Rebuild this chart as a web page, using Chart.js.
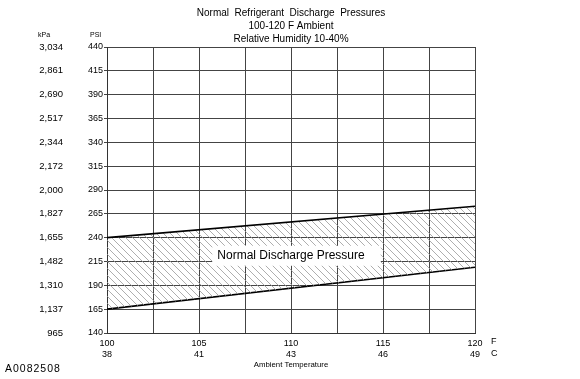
<!DOCTYPE html>
<html><head><meta charset="utf-8">
<script src="https://cdn.jsdelivr.net/npm/chart.js@4/dist/chart.umd.min.js"></script>
<style>html,body{margin:0;padding:0;background:#fff}#wrap{width:580px;height:379px;position:relative}</style>
</head><body><div id="wrap"><canvas id="c" width="580" height="379"></canvas></div>
<script>
const titleLines = ['Normal  Refrigerant  Discharge  Pressures', '100-120 F Ambient', 'Relative Humidity 10-40%'];
const tempF = [100, 120];
const upperPSI = [240, 273];
const lowerPSI = [165, 209];
const fTicks = [100, 105, 110, 115, 120];
const cTicks = ['38', '41', '43', '46', '49'];
const psiTicks = [140, 165, 190, 215, 240, 265, 290, 315, 340, 365, 390, 415, 440];
const kpaTicks = ['965', '1,137', '1,310', '1,482', '1,655', '1,827', '2,000', '2,172', '2,344', '2,517', '2,690', '2,861', '3,034'];
const bandLabel = 'Normal Discharge Pressure';
const bandLabelAt = [110, 221];
const xTitle = 'Ambient Temperature';
const figureId = 'A0082508';

const FONT = "'Liberation Sans', Arial, sans-serif";

function hatch() {
  const s = 7, c = document.createElement('canvas');
  c.width = s; c.height = s;
  const g = c.getContext('2d');
  g.strokeStyle = '#999'; g.lineWidth = 0.8;
  g.beginPath();
  g.moveTo(-1, -1); g.lineTo(s + 1, s + 1);
  g.moveTo(-1, s - 1); g.lineTo(1, s + 1);
  g.moveTo(s - 1, -1); g.lineTo(s + 1, 1);
  g.stroke();
  return g.createPattern(c, 'repeat');
}

const extras = {
  id: 'extras',
  afterDatasetsDraw(chart) {
    const ctx = chart.ctx, x = chart.scales.x, y = chart.scales.y;
    ctx.save();
    ctx.font = '12px ' + FONT;
    const px = x.getPixelForValue(bandLabelAt[0]), py = y.getPixelForValue(bandLabelAt[1]);
    const tw = ctx.measureText(bandLabel).width;
    ctx.fillStyle = '#fff';
    ctx.fillRect(px - tw / 2 - 5, py - 10, tw + 21, 20);
    ctx.fillStyle = '#000';
    ctx.textAlign = 'center'; ctx.textBaseline = 'middle';
    ctx.fillText(bandLabel, px, py);
    ctx.restore();
  },
  afterDraw(chart) {
    const ctx = chart.ctx, x = chart.scales.x, y = chart.scales.y, y2 = chart.scales.y2;
    ctx.save();
    ctx.fillStyle = '#000';
    ctx.textBaseline = 'middle';
    ctx.font = '7px ' + FONT;
    ctx.textAlign = 'left';
    ctx.fillText('kPa', y2.left + 38, chart.chartArea.top - 12);
    ctx.fillText('PSI', y.left + 25, chart.chartArea.top - 12);
    ctx.font = '9px ' + FONT;
    ctx.fillText('F', x.right + 16, chart.chartArea.bottom + 9);
    ctx.fillText('C', x.right + 16, chart.chartArea.bottom + 21);
    ctx.font = '10.5px ' + FONT;
    if ('letterSpacing' in ctx) ctx.letterSpacing = '1px';
    ctx.fillText(figureId, 5, 369);
    ctx.restore();
  }
};

new Chart(document.getElementById('c'), {
  type: 'line',
  data: {
    datasets: [
      { label: 'lower', data: tempF.map((t, i) => ({ x: t, y: lowerPSI[i] })), borderColor: '#000', borderWidth: 1.6, pointRadius: 0, fill: false, order: 1 },
      { label: 'upper', data: tempF.map((t, i) => ({ x: t, y: upperPSI[i] })), borderColor: '#000', borderWidth: 1.6, pointRadius: 0, fill: '-1', backgroundColor: hatch(), order: 0 }
    ]
  },
  options: {
    responsive: false, animation: false, devicePixelRatio: 1,
    layout: { padding: { left: 0, right: 105, top: 0, bottom: 0 } },
    plugins: {
      legend: { display: false }, tooltip: { enabled: false },
      title: { display: true, fullSize: false, text: titleLines, color: '#000', font: { family: FONT, size: 10, weight: 'normal', lineHeight: 1.3 }, padding: { top: 7, bottom: 1 } }
    },
    scales: {
      x: {
        type: 'linear', min: 100, max: 120,
        afterBuildTicks: s => { s.ticks = []; for (let v = 100; v <= 120; v += 2.5) s.ticks.push({ value: v }); },
        ticks: { autoSkip: false, maxRotation: 0, color: '#000', font: { family: FONT, size: 9, lineHeight: 1.2 }, padding: 5,
          callback: v => { const i = fTicks.indexOf(v); return i >= 0 ? [String(v), cTicks[i]] : ''; } },
        grid: { color: '#444', lineWidth: 1, drawTicks: false },
        border: { color: '#333', width: 1 },
        title: { display: true, text: xTitle, color: '#000', font: { family: FONT, size: 7.8, lineHeight: 1.2 }, padding: { top: 2, bottom: 9 } },
        afterFit: s => { s.height = 46; }
      },
      y: {
        min: 140, max: 440, weight: 0,
        afterBuildTicks: s => { s.ticks = psiTicks.map(v => ({ value: v })); },
        ticks: { color: '#000', font: { family: FONT, size: 9 }, padding: 1, callback: v => String(v) },
        grid: { color: '#444', lineWidth: 1, tickLength: 3 },
        border: { color: '#333', width: 1 },
        afterFit: s => { s.width = 42; }
      },
      y2: {
        position: 'left', min: 140, max: 440, weight: 1,
        afterBuildTicks: s => { s.ticks = psiTicks.map(v => ({ value: v })); },
        ticks: { color: '#000', font: { family: FONT, size: 9.5 }, padding: 2, callback: v => kpaTicks[psiTicks.indexOf(v)] },
        grid: { display: false, drawTicks: false },
        border: { display: false },
        afterFit: s => { s.width = 65; }
      }
    }
  },
  plugins: [extras]
});
</script>
</body></html>
